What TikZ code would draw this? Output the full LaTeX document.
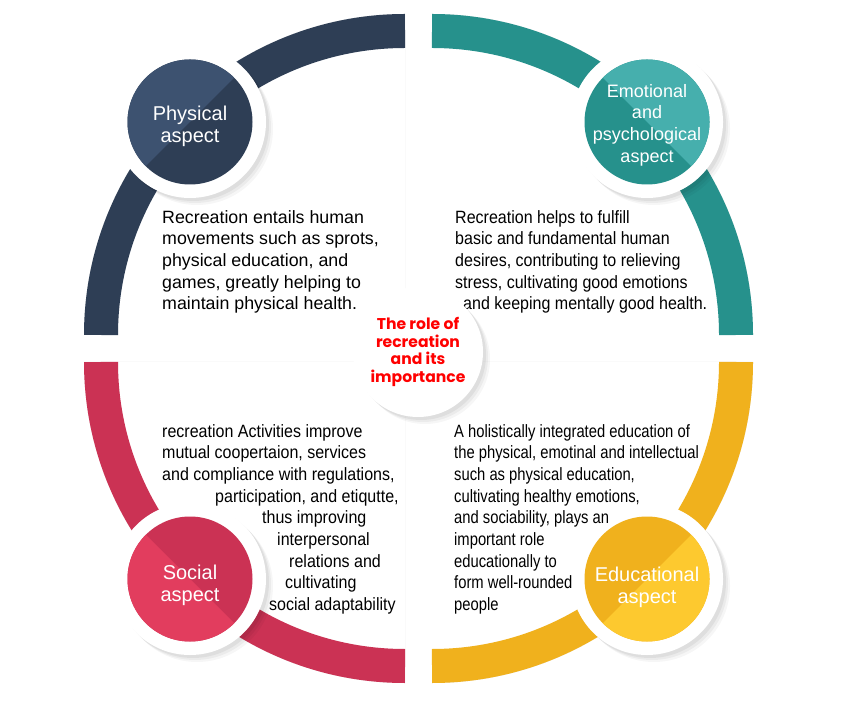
\documentclass[tikz,border=0pt]{standalone}
\usepackage{fontspec}
\setmainfont{Liberation Sans}
\newfontfamily\narrowA{Liberation Sans}[FakeStretch=0.9]
\newfontfamily\narrowB{Liberation Sans}[FakeStretch=0.83]
\newfontfamily\comicfont{Poppins}
\usetikzlibrary{calc}
\definecolor{navy}{HTML}{2E3E55}
\definecolor{navyl}{HTML}{3D5270}
\definecolor{teal}{HTML}{26918C}
\definecolor{teall}{HTML}{46AFAD}
\definecolor{crim}{HTML}{CB3254}
\definecolor{criml}{HTML}{E23D5E}
\definecolor{gold}{HTML}{F0B11D}
\definecolor{goldl}{HTML}{FDC92F}
\newcommand\quadpanel[2]{%
  \foreach \s/\o in {9/0.035,7/0.045,5/0.055,3/0.065}{%
    \fill[black,opacity=\o,xshift=\s pt,yshift=-\s pt] (#1) -- ($(#1)+(#2:321)$) arc[start angle=#2, end angle=#2+90, radius=321] -- cycle;}%
  \fill[white] (#1) -- ($(#1)+(#2:321)$) arc[start angle=#2, end angle=#2+90, radius=321] -- cycle;}
\newcommand\softshadow[2]{%
  \foreach \s/\o in {7/0.035,5/0.045,3/0.055}{%
    \fill[black,opacity=\o] ($(#1)+(\s,-\s)$) circle[radius=#2];}}
\tikzset{
  ring/.style={line width=34pt},
  halo/.style={circle, fill=white, minimum size=152pt, inner sep=0pt},
  aspect/.style n args={3}{circle, minimum size=125pt, inner sep=0pt, fill=#1,
    path picture={\fill[#2] (path picture bounding box.center) ++(#3+90:80) -- ++(#3:80) -- ++(#3-90:160) -- ++(#3+180:80) -- cycle;}},
  aspecttext/.style={inner sep=0pt, text=white, align=center, font=\fontsize{20}{22}\selectfont},
  body/.style={anchor=north west, inner sep=0pt, align=left, text=black},
}
\begin{document}
\begin{tikzpicture}[x=1pt,y=1pt]
\useasboundingbox (0,0) rectangle (850,712);
\coordinate (TL) at (405,377);
\coordinate (TR) at (432,377);
\coordinate (BL) at (405,350);
\coordinate (BR) at (432,350);
% panels
\quadpanel{TL}{90}
\quadpanel{TR}{0}
\quadpanel{BL}{180}
\quadpanel{BR}{270}
% rings
\draw[ring,navy] (TL) ++(90:304) arc[start angle=90, end angle=180, radius=304];
\draw[ring,teal] (TR) ++(0:304) arc[start angle=0, end angle=90, radius=304];
\draw[ring,crim] (BL) ++(180:304) arc[start angle=180, end angle=270, radius=304];
\draw[ring,gold] (BR) ++(270:304) arc[start angle=270, end angle=360, radius=304];
% halos
\coordinate (cP) at (190,590);
\coordinate (cE) at (647,590);
\coordinate (cS) at (190,133);
\coordinate (cD) at (647,133);
\softshadow{cP}{76}
\softshadow{cE}{76}
\softshadow{cS}{76}
\softshadow{cD}{76}
\node[halo] (hP) at (cP) {};
\node[halo] (hE) at (cE) {};
\node[halo] (hS) at (cS) {};
\node[halo] (hD) at (cD) {};
\node[aspect={navy}{navyl}{135}] (phys) at (cP) {};
\node[aspect={teal}{teall}{45}] (emot) at (cE) {};
\node[aspect={crim}{criml}{225}] (soc) at (cS) {};
\node[aspect={gold}{goldl}{315}] (edu) at (cD) {};
\node[aspecttext] (physT) at ($(cP)+(0,-4)$) {Physical\\aspect};
\node[aspecttext, font=\fontsize{18}{21.7}\selectfont] (emotT) at ($(cE)+(0,-3)$) {Emotional\\and\\psychological\\aspect};
\node[aspecttext] (socT) at ($(cS)+(0,-6)$) {Social\\aspect};
\node[aspecttext] (eduT) at ($(cD)+(0,-8)$) {Educational\\aspect};
% texts
\node[body, font=\fontsize{17.8}{21.7}\selectfont] (tP) at (162,502) {Recreation entails human\\movements such as sprots,\\physical education, and\\games, greatly helping to\\maintain physical health.};
\node[body, font=\narrowA\fontsize{17.8}{21.7}\selectfont] (tE) at (455,502) {Recreation helps to fulfill\\basic and fundamental human\\desires, contributing to relieving\\stress, cultivating good emotions\\\hspace*{8pt}and keeping mentally good health.};
\node[body, font=\narrowA\fontsize{17.8}{21.7}\selectfont] (tS) at (162,288) {recreation Activities improve\\mutual coopertaion, services\\and compliance with regulations,\\\hspace*{53pt}participation, and etiqutte,\\\hspace*{100pt}thus improving\\\hspace*{115pt}interpersonal\\\hspace*{127pt}relations and\\\hspace*{123pt}cultivating\\\hspace*{107pt}social adaptability};
\node[body, font=\narrowB\fontsize{17.8}{21.7}\selectfont] (tD) at (454,288) {A holistically integrated education of\\the physical, emotinal and intellectual\\such as physical education,\\cultivating healthy emotions,\\and sociability, plays an\\important role\\educationally to\\form well-rounded\\people};
% centre
\coordinate (cC) at (418,360);
\softshadow{cC}{65}
\node[circle, fill=white, minimum size=130pt, inner sep=0pt, align=center, text={rgb,255:red,255;green,0;blue,0}, font=\comicfont\bfseries\fontsize{15.6}{17.5}\selectfont] (centre) at (cC) {The role of\\recreation\\and its\\importance};
\end{tikzpicture}
\end{document}
